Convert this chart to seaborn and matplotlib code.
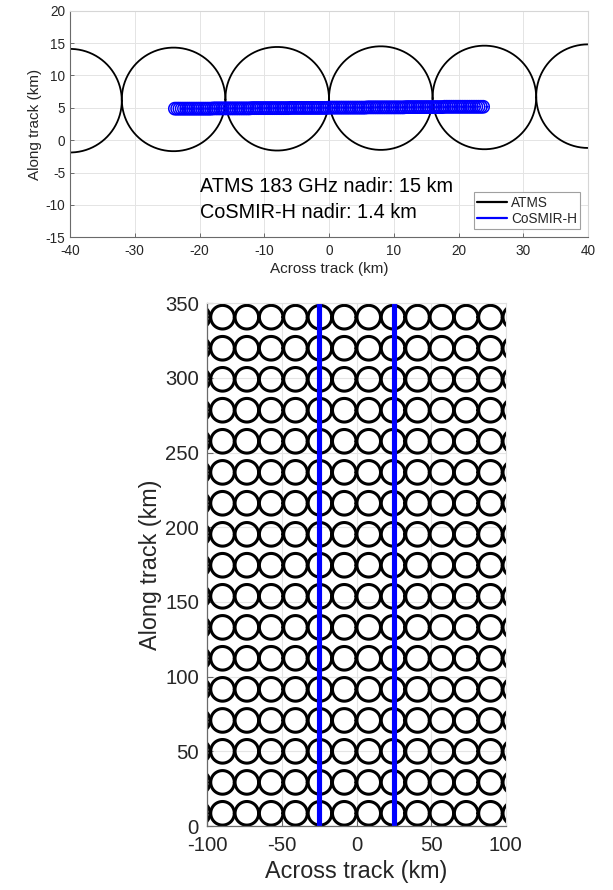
import numpy as np
import pandas as pd
import matplotlib
matplotlib.use("Agg")
import matplotlib.pyplot as plt
import seaborn as sns
from matplotlib.lines import Line2D

# ---------------- data ----------------
# Top panel: ATMS footprint centres (km) and radius
atms_top_x = [-40.0, -24.0, -8.0, 8.0, 24.0, 40.0]
atms_top_y = [6.1, 6.3, 6.4, 6.5, 6.6, 6.8]
atms_top_radius = 8.0

# Top panel: CoSMIR-H footprint centres (km) and radius
cosmir_x = [-23.8, -23.45, -23.1, -22.75, -22.4, -22.05, -21.7, -21.35, -21.0, -20.65,
            -20.3, -19.95, -19.6, -19.25, -18.9, -18.55, -18.2, -17.85, -17.5, -17.15,
            -16.8, -16.45, -16.1, -15.75, -15.4, -15.05, -14.7, -14.35, -14.0, -13.65,
            -13.3, -12.95, -12.6, -12.25, -11.9, -11.55, -11.2, -10.85, -10.5, -10.15,
            -9.8, -9.45, -9.1, -8.75, -8.4, -8.05, -7.7, -7.35, -7.0, -6.65,
            -6.3, -5.95, -5.6, -5.25, -4.9, -4.55, -4.2, -3.85, -3.5, -3.15,
            -2.8, -2.45, -2.1, -1.75, -1.4, -1.05, -0.7, -0.35, 0.0, 0.35,
            0.7, 1.05, 1.4, 1.75, 2.1, 2.45, 2.8, 3.15, 3.5, 3.85,
            4.2, 4.55, 4.9, 5.25, 5.6, 5.95, 6.3, 6.65, 7.0, 7.35,
            7.7, 8.05, 8.4, 8.75, 9.1, 9.45, 9.8, 10.15, 10.5, 10.85,
            11.2, 11.55, 11.9, 12.25, 12.6, 12.95, 13.3, 13.65, 14.0, 14.35,
            14.7, 15.05, 15.4, 15.75, 16.1, 16.45, 16.8, 17.15, 17.5, 17.85,
            18.2, 18.55, 18.9, 19.25, 19.6, 19.95, 20.3, 20.65, 21.0, 21.35,
            21.7, 22.05, 22.4, 22.75, 23.1, 23.45, 23.8]
cosmir_y = ([4.87] * 17 + [4.91] * 17 + [4.95] * 17 + [4.99] * 17 +
            [5.03] * 17 + [5.07] * 17 + [5.11] * 17 + [5.16] * 18)
cosmir_radius = 0.95

# Bottom panel: ATMS footprint grid (km)
atms_cols = [-106.1, -89.8, -73.5, -57.2, -40.9, -24.5, -8.2,
             8.2, 24.5, 40.9, 57.2, 73.5, 89.8, 106.1]
atms_rows = [8.5, 29.2, 50.0, 70.7, 91.5, 112.3, 133.0, 153.8, 174.6,
             195.3, 216.1, 236.8, 257.6, 278.4, 299.1, 319.9, 340.7]
atms_bottom_radius = 7.9

# Bottom panel: CoSMIR-H swath edges (km)
swath_edges_x = [-24.8, 24.8]
swath_y = [0.0, 350.0]

# Axes ticks / labels
top_xticks = [-40, -30, -20, -10, 0, 10, 20, 30, 40]
top_yticks = [-15, -10, -5, 0, 5, 10, 15, 20]
bot_xticks = [-100, -50, 0, 50, 100]
bot_yticks = [0, 50, 100, 150, 200, 250, 300, 350]
xlabel = "Across track (km)"
ylabel = "Along track (km)"
annotations = ["ATMS 183 GHz nadir: 15 km", "CoSMIR-H nadir: 1.4 km"]
legend_labels = ["ATMS", "CoSMIR-H"]


def circle_frame(xs, ys, r, n=181):
    t = np.linspace(0, 2 * np.pi, n)
    parts = []
    for i, (cx, cy) in enumerate(zip(xs, ys)):
        parts.append(pd.DataFrame({"x": cx + r * np.cos(t),
                                   "y": cy + r * np.sin(t),
                                   "id": i}))
    return pd.concat(parts, ignore_index=True)


# ---------------- style ----------------
sns.set_theme(style="whitegrid")
plt.rcParams["font.family"] = ["Liberation Sans", "DejaVu Sans"]
plt.rcParams["axes.unicode_minus"] = False
TEXT = "#262626"
SPINE = "#6a6a6a"
GRID = "#e4e4e4"

fig = plt.figure(figsize=(6.13, 8.90), dpi=100)
fig.patch.set_facecolor("white")

W, H = 613.0, 890.0
ax1 = fig.add_axes([70 / W, 1 - 237.3 / H, 518 / W, 226.6 / H])
ax2 = fig.add_axes([207.3 / W, 1 - 826 / H, 298.4 / W, 522.7 / H])

# ---------------- top panel ----------------
df_top = circle_frame(atms_top_x, atms_top_y, atms_top_radius)
sns.lineplot(data=df_top, x="x", y="y", units="id", estimator=None, sort=False,
             color="black", linewidth=1.3, ax=ax1, legend=False)
df_cos = circle_frame(cosmir_x, cosmir_y, cosmir_radius, n=61)
sns.lineplot(data=df_cos, x="x", y="y", units="id", estimator=None, sort=False,
             color="#0000ff", linewidth=1.1, ax=ax1, legend=False)

ax1.set_xlim(-40, 40)
ax1.set_ylim(-15, 20)
ax1.set_xticks(top_xticks)
ax1.set_yticks(top_yticks)
ax1.set_xlabel(xlabel, fontsize=11, color=TEXT, labelpad=2.5)
ax1.set_ylabel(ylabel, fontsize=11, color=TEXT, labelpad=2.5)
ax1.tick_params(axis="both", direction="in", length=3, width=0.7, color=SPINE,
                labelsize=9.8, labelcolor=TEXT, bottom=True, left=True)
ax1.tick_params(axis="x", pad=5)
ax1.tick_params(axis="y", pad=3.5)
ax1.grid(True, color=GRID, linewidth=0.7)
for s in ["left", "bottom"]:
    ax1.spines[s].set_color(SPINE)
    ax1.spines[s].set_linewidth(0.8)
for s in ["top", "right"]:
    ax1.spines[s].set_color("#d6d6d6")
    ax1.spines[s].set_linewidth(0.8)
ax1.text(-20, -7.2, annotations[0], fontsize=14.3, color="black",
         ha="left", va="center")
ax1.text(-20, -11.2, annotations[1], fontsize=14.3, color="black",
         ha="left", va="center")
handles = [Line2D([0], [0], color="black", lw=1.6),
           Line2D([0], [0], color="#0000ff", lw=1.6)]
leg = ax1.legend(handles, legend_labels, loc="lower right",
                 bbox_to_anchor=(0.985, 0.036), borderaxespad=0,
                 fontsize=9.8, frameon=True, fancybox=False, framealpha=1,
                 edgecolor="#a0a0a0", handlelength=2.2, handletextpad=0.25,
                 labelspacing=0.15, borderpad=0.25)
leg.get_frame().set_linewidth(0.8)
for t in leg.get_texts():
    t.set_color(TEXT)

# ---------------- bottom panel ----------------
gx, gy = np.meshgrid(atms_cols, atms_rows)
df_bot = circle_frame(gx.ravel(), gy.ravel(), atms_bottom_radius, n=121)
sns.lineplot(data=df_bot, x="x", y="y", units="id", estimator=None, sort=False,
             color="black", linewidth=2.2, ax=ax2, legend=False)
df_sw = pd.DataFrame({"x": [swath_edges_x[0]] * 2 + [swath_edges_x[1]] * 2,
                      "y": swath_y + swath_y,
                      "id": [0, 0, 1, 1]})
sns.lineplot(data=df_sw, x="x", y="y", units="id", estimator=None, sort=False,
             color="#0000ff", linewidth=3.7, ax=ax2, legend=False)

ax2.set_xlim(-100, 100)
ax2.set_ylim(0, 350)
ax2.set_xticks(bot_xticks)
ax2.set_yticks(bot_yticks)
ax2.set_xlabel(xlabel, fontsize=16.8, color=TEXT, labelpad=3)
ax2.set_ylabel(ylabel, fontsize=16.8, color=TEXT, labelpad=2)
ax2.tick_params(axis="both", direction="in", length=4, width=0.8, color=SPINE,
                labelsize=14.6, labelcolor=TEXT, bottom=True, left=True)
ax2.tick_params(axis="x", pad=7.5)
ax2.tick_params(axis="y", pad=6)
ax2.grid(True, color=GRID, linewidth=0.8)
for s in ["left", "bottom"]:
    ax2.spines[s].set_color(SPINE)
    ax2.spines[s].set_linewidth(0.9)
for s in ["top", "right"]:
    ax2.spines[s].set_color("#e0e0e0")
    ax2.spines[s].set_linewidth(0.8)

fig.savefig("out.png", dpi=100, facecolor="white")
